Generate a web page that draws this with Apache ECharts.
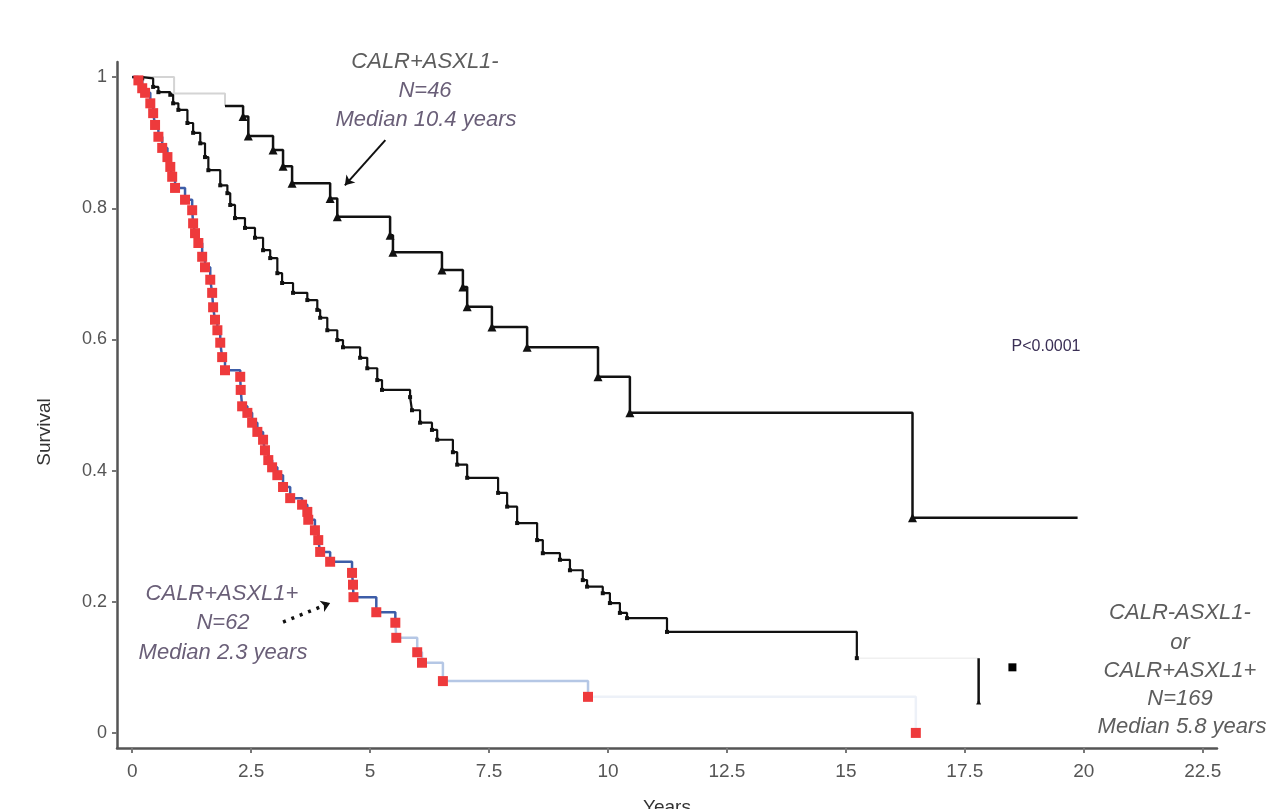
<!DOCTYPE html>
<html><head><meta charset="utf-8">
<script src="https://cdn.jsdelivr.net/npm/echarts@6/dist/echarts.min.js"></script>
<style>html,body{margin:0;padding:0;background:#fff}#c{width:1273px;height:809px}</style>
</head><body><div id="c"></div>
<script>
// Tick labels
const xTicks = [0, 2.5, 5, 7.5, 10, 12.5, 15, 17.5, 20, 22.5];
const yTicks = [0, 0.2, 0.4, 0.6, 0.8, 1];

// CALR+ASXL1- (N=46) : [years, survival]
const calrPosAsxlNeg = [
  [0,1],[0.88,0.975],[1.95,0.956],[2.33,0.94],[2.44,0.91],[2.96,0.889],[3.17,0.864],
  [3.36,0.838],[4.16,0.815],[4.31,0.787],[5.42,0.759],[5.48,0.733],[6.51,0.706],
  [6.95,0.68],[7.04,0.65],[7.56,0.619],[8.3,0.588],[9.79,0.543],[10.46,0.488],
  [16.4,0.328],[19.87,0.328]
];

// CALR-ASXL1- or CALR+ASXL1+ (N=169)
const otherGroup = [
  [0,1],[0.21,0.998],[0.44,0.985],[0.55,0.977],[0.8,0.973],[0.86,0.96],[0.97,0.95],
  [1.16,0.93],[1.28,0.915],[1.43,0.899],[1.53,0.878],[1.6,0.858],[1.85,0.835],
  [2.0,0.823],[2.06,0.805],[2.16,0.785],[2.37,0.77],[2.58,0.755],[2.75,0.736],
  [2.9,0.724],[3.05,0.701],[3.15,0.686],[3.38,0.671],[3.68,0.66],[3.89,0.645],
  [3.95,0.633],[4.1,0.614],[4.31,0.599],[4.43,0.588],[4.79,0.572],[4.94,0.556],
  [5.15,0.538],[5.25,0.523],[5.84,0.512],[5.88,0.492],[6.05,0.473],[6.3,0.462],
  [6.41,0.447],[6.74,0.428],[6.83,0.409],[7.04,0.389],[7.69,0.366],[7.88,0.345],
  [8.09,0.32],[8.51,0.294],[8.63,0.274],[8.99,0.264],[9.2,0.248],[9.47,0.233],
  [9.56,0.223],[9.89,0.213],[10.04,0.198],[10.25,0.183],[10.4,0.175],[11.24,0.154],
  [15.23,0.114],[17.79,0.047]
];

// CALR+ASXL1+ (N=62)
const calrPosAsxlPos = [
  [0,1],[0.13,0.995],[0.21,0.983],[0.27,0.976],[0.38,0.96],[0.44,0.945],[0.48,0.927],
  [0.55,0.909],[0.63,0.892],[0.74,0.878],[0.8,0.863],[0.84,0.848],[0.9,0.831],
  [1.11,0.813],[1.26,0.797],[1.28,0.777],[1.32,0.762],[1.39,0.747],[1.47,0.726],
  [1.53,0.71],[1.64,0.691],[1.68,0.671],[1.7,0.649],[1.74,0.63],[1.79,0.614],
  [1.85,0.595],[1.89,0.573],[1.95,0.553],[2.27,0.543],[2.28,0.523],[2.31,0.498],
  [2.42,0.488],[2.52,0.473],[2.63,0.459],[2.75,0.447],[2.79,0.431],[2.86,0.416],
  [2.94,0.405],[3.05,0.393],[3.17,0.375],[3.32,0.358],[3.57,0.348],[3.68,0.337],
  [3.7,0.325],[3.84,0.309],[3.91,0.294],[3.95,0.276],[4.16,0.261],[4.62,0.244],
  [4.64,0.226],[4.65,0.207],[5.13,0.184],[5.53,0.168],[5.55,0.145],[5.99,0.123],
  [6.09,0.107],[6.53,0.079],[9.58,0.055],[16.47,0]
];

// Annotation pointers (data coordinates)
const arrowNeg = [[5.32, 0.904], [4.47, 0.835]];
const arrowPos = [[3.17, 0.169], [4.16, 0.198]];
const pointerOther = [[18.5, 0.1]];

const txtFont = 'Liberation Sans, Arial, sans-serif';

const chart = echarts.init(document.getElementById('c'), null, {renderer: 'canvas'});

// split a step curve into pieces by time, for the fading line colours of the original
function segment(arr, from, to) {
  return arr.filter(p => p[0] >= from && p[0] <= to);
}
// vertical drop at the last time of a curve
function lastDrop(arr) {
  const a = arr[arr.length - 2], b = arr[arr.length - 1];
  return [{value: [b[0], a[1]], symbol: 'none'}, {value: b}];
}
function noEndSymbols(arr, keepLast) {
  return arr.map((p, i) => (i === 0 || (!keepLast && i === arr.length - 1)) ? {value: p, symbol: 'none'} : {value: p});
}

const stepLine = (name, data, color, width, extra) => Object.assign({
  name: name, type: 'line', step: 'end', data: data, showSymbol: false, symbol: 'none',
  lineStyle: {width: width, color: color}, itemStyle: {color: color, opacity: 1}, z: 2, silent: true
}, extra || {});

const option = {
  animation: false,
  backgroundColor: '#fff',
  grid: {left: 117, right: 56, top: 62, bottom: 61, containLabel: false, outerBoundsMode: 'none'},
  xAxis: {
    type: 'value', min: -0.32, max: 22.8,
    name: 'Years', nameLocation: 'middle', nameGap: 50,
    nameTextStyle: {fontSize: 19, color: '#333', fontFamily: txtFont},
    axisLine: {show: true, onZero: false, lineStyle: {color: '#555', width: 2.5}},
    axisTick: {show: true, customValues: xTicks, length: 5, lineStyle: {color: '#777', width: 2}},
    axisLabel: {customValues: xTicks, margin: 14, fontSize: 19, color: '#555', fontFamily: txtFont},
    splitLine: {show: false}
  },
  yAxis: {
    type: 'value', min: -0.023, max: 1.023,
    axisLine: {show: true, onZero: false, lineStyle: {color: '#555', width: 2.5}},
    axisTick: {show: true, customValues: yTicks, length: 5, lineStyle: {color: '#777', width: 2}},
    axisLabel: {customValues: yTicks, margin: 10, fontSize: 18, color: '#555', fontFamily: txtFont},
    splitLine: {show: false}
  },
  series: [
    // N=169 curve
    stepLine('CALR-ASXL1- or CALR+ASXL1+', noEndSymbols(segment(otherGroup, 0, 15.3), true), '#111', 2.2,
      {showSymbol: true, symbol: 'rect', symbolSize: 4, z: 3}),
    stepLine('CALR-ASXL1- or CALR+ASXL1+ tail', segment(otherGroup, 15.2, 18), '#f0f0f0', 1.5),
    stepLine('CALR-ASXL1- or CALR+ASXL1+ end', lastDrop(otherGroup), '#111', 2.5,
      {showSymbol: true, symbol: 'triangle', symbolSize: 5, z: 3}),
    // N=46 curve
    stepLine('CALR+ASXL1- start', segment(calrPosAsxlNeg, 0, 2), '#d4d4d4', 2),
    stepLine('CALR+ASXL1-', noEndSymbols(segment(calrPosAsxlNeg, 1.9, 25)), '#111', 2.5,
      {showSymbol: true, symbol: 'triangle', symbolSize: 9, z: 3}),
    // N=62 curve: line fades from blue to pale blue
    stepLine('CALR+ASXL1+ line a', segment(calrPosAsxlPos, 0, 5.54), '#3d5da8', 2.5),
    stepLine('CALR+ASXL1+ line b', segment(calrPosAsxlPos, 5.53, 9.6), '#b5c7e5', 2.5),
    stepLine('CALR+ASXL1+ line c', segment(calrPosAsxlPos, 9.58, 20), '#edf1f8', 2.5),
    {
      name: 'CALR+ASXL1+', type: 'scatter',
      data: calrPosAsxlPos.slice(1), symbol: 'rect', symbolSize: 10,
      itemStyle: {color: '#ee3a3c', opacity: 1}, z: 4, silent: true
    },
    {
      name: 'pointers', type: 'scatter', data: pointerOther, symbol: 'rect', symbolSize: 8,
      itemStyle: {color: '#000', opacity: 1}, z: 5, silent: true,
      markLine: {
        silent: true, animation: false, symbol: ['none', 'arrow'], symbolSize: 9,
        label: {show: false},
        data: [
          [{coord: arrowNeg[0], lineStyle: {color: '#111', width: 2, type: 'solid'}}, {coord: arrowNeg[1]}],
          [{coord: arrowPos[0], lineStyle: {color: '#111', width: 3.5, type: [3, 6]}}, {coord: arrowPos[1]}]
        ]
      }
    }
  ],
  graphic: (function () {
    const g = [];
    const st = (txt, x, y, size, italic, color, rot) => ({
      type: 'text', x: x, y: y, rotation: rot || 0,
      style: {text: txt, x: 0, y: 0, align: 'center', verticalAlign: 'middle',
        font: (italic ? 'italic ' : '') + size + 'px ' + txtFont, fill: color}
    });
    const c = '#5d5d5d', c2 = '#6a5f78';
    g.push(st('Survival', 45, 432, 19, false, '#333', Math.PI / 2));
    g.push(st('CALR+ASXL1-', 425, 62, 22, true, c));
    g.push(st('N=46', 425, 91, 22, true, c2));
    g.push(st('Median 10.4 years', 426, 120, 22, true, c2));
    g.push(st('CALR+ASXL1+', 222, 594, 22, true, c2));
    g.push(st('N=62', 223, 623, 22, true, c2));
    g.push(st('Median 2.3 years', 223, 653, 22, true, c2));
    g.push(st('CALR-ASXL1-', 1180, 613, 22, true, c));
    g.push(st('or', 1180, 643, 22, true, c));
    g.push(st('CALR+ASXL1+', 1180, 671, 22, true, c));
    g.push(st('N=169', 1180, 699, 22, true, c));
    g.push(st('Median 5.8 years', 1182, 727, 22, true, c));
    g.push(st('P<0.0001', 1046, 347, 16, false, '#3a2f55'));
    return g;
  })()
};
chart.setOption(option);
</script>
</body></html>
